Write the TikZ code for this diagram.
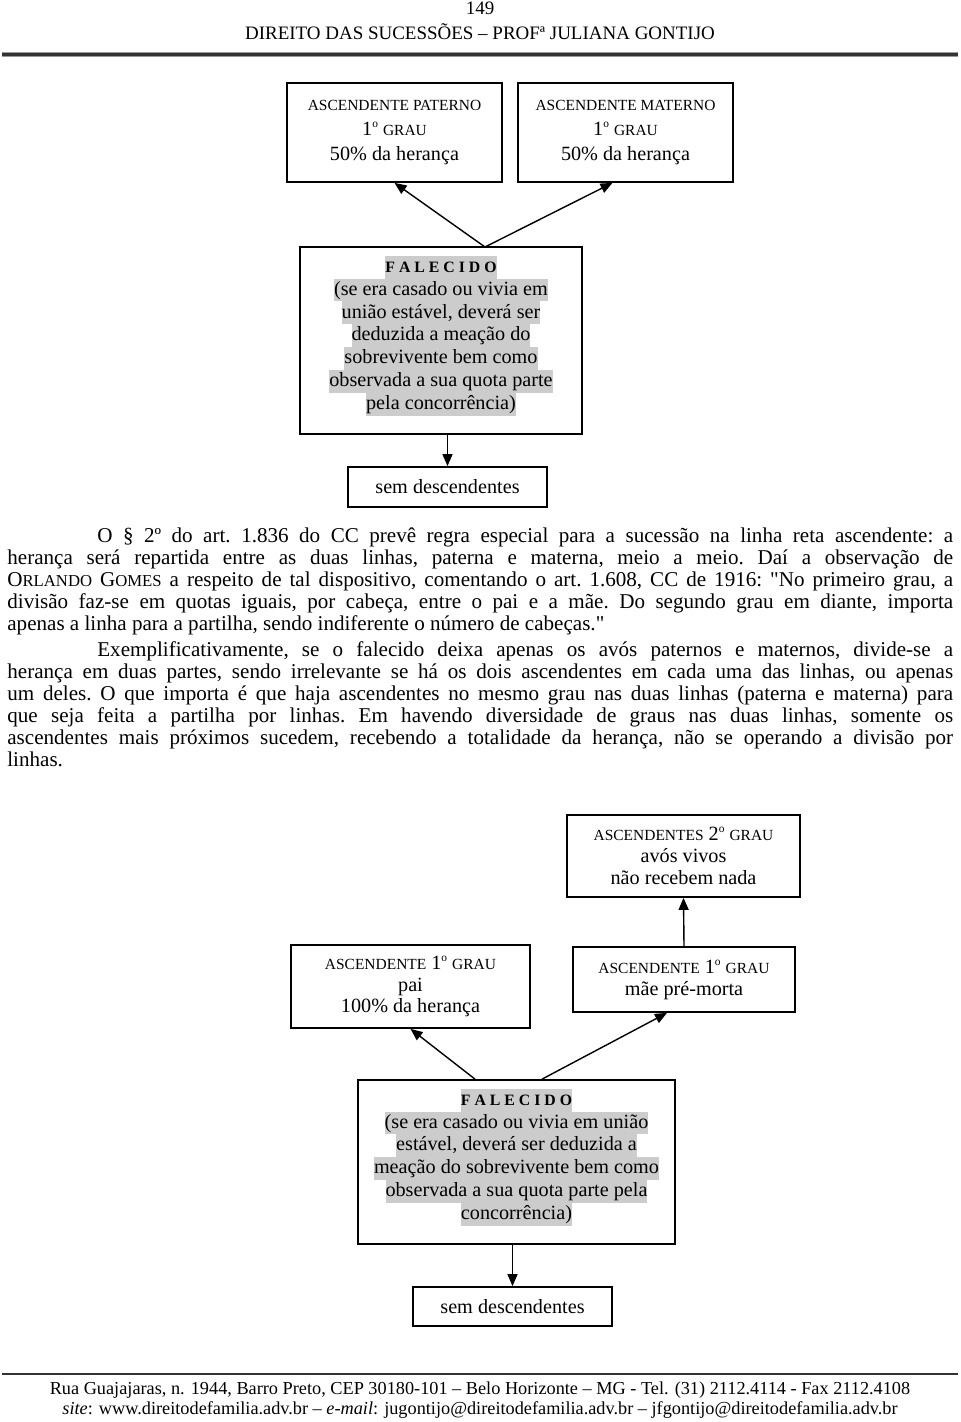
\documentclass[tikz,border=0pt]{standalone}
\usepackage{fontspec}
\setmainfont{Liberation Serif}
\usetikzlibrary{arrows.meta}

\definecolor{hlgray}{gray}{0.8}
\newcommand{\hlbar}[1]{{\setlength{\fboxsep}{0pt}\colorbox{hlgray}{\rule[-3.6pt]{0pt}{13pt}#1}}}
\newcommand{\capsm}[1]{{\fontsize{8.8}{10}\selectfont #1}}
\newcommand{\grau}[1]{#1\raisebox{0.85ex}{\fontsize{6.5}{7}\selectfont o}}
\newcommand{\faleceu}{\textbf{\fontsize{9}{10}\selectfont F A L E C I D O}}

\tikzset{
  box/.style={draw, line width=1pt, inner sep=0pt, align=center, font=\fontsize{11.5}{12.5}\selectfont},
  topbox/.style={font=\fontsize{11.5}{14}\selectfont},
  falbox/.style={font=\fontsize{11.5}{13}\selectfont},
  arr/.style={-{Triangle[length=0.24cm,width=0.2cm]}, line width=0.8pt},
  hdr/.style={inner sep=0pt, font=\fontsize{10.8}{12}\selectfont},
}

\begin{document}
\begin{tikzpicture}[x=0.02cm,y=-0.02cm]
\useasboundingbox (0,0) rectangle (960,1422);

% cabecalho
\node[hdr] (pag) at (480,8) {149};
\node[hdr] (tit) at (480,32) {DIREITO DAS SUCESSÕES – PROFª JULIANA GONTIJO};
\draw[line width=0.1cm, black!40] (2,55) -- (958,55);
\draw[line width=0.06cm, black!80] (2,55) -- (958,55);

% primeiro esquema
\node[box, topbox, minimum width=4.3cm, minimum height=1.98cm] (pat) at (394.5,132.5)
  {\capsm{ASCENDENTE PATERNO}\\\grau{1} \capsm{GRAU}\\50\% da herança};
\node[box, topbox, minimum width=4.3cm, minimum height=1.98cm] (mat) at (625.5,132.5)
  {\capsm{ASCENDENTE MATERNO}\\\grau{1} \capsm{GRAU}\\50\% da herança};
\node[box, falbox, minimum width=5.64cm, minimum height=3.74cm] (fal1) at (441,340.5)
  {\hlbar{\faleceu}\\\hlbar{(se era casado ou vivia em}\\\hlbar{união estável, deverá ser}\\\hlbar{deduzida a meação do}\\\hlbar{sobrevivente bem como}\\\hlbar{observada a sua quota parte}\\\hlbar{pela concorrência)}\\[-4pt]};
\node[box, minimum width=3.98cm, minimum height=0.8cm] (sem1) at (447.5,487) {sem descendentes};
\coordinate (top1) at (485,247);

\draw[arr] (top1) -- (pat.south);
\draw[arr] (top1) -- ([xshift=-0.26cm]mat.south);
\draw[arr] (fal1.south -| sem1.north) -- (sem1.north);

% texto
\node[anchor=north west, inner sep=0pt, text width=18.92cm, align=justify,
      font=\fontsize{12}{12.52}\selectfont] (txt) at (7,527) {%
\setlength{\parindent}{0pt}\setlength{\parskip}{2.8pt}\hyphenpenalty=10000\frenchspacing
\hspace*{1.8cm}O § 2º do art. 1.836 do CC prevê regra especial para a sucessão na linha reta ascendente: a\linebreak
herança será repartida entre as duas linhas, paterna e materna, meio a meio. Daí a observação de\linebreak
O{\fontsize{9.5}{10}\selectfont RLANDO} G{\fontsize{9.5}{10}\selectfont OMES} a respeito de tal dispositivo, comentando o art. 1.608, CC de 1916: \textquotedbl No primeiro grau, a\linebreak
divisão faz-se em quotas iguais, por cabeça, entre o pai e a mãe. Do segundo grau em diante, importa\linebreak
apenas a linha para a partilha, sendo indiferente o número de cabeças.\textquotedbl\par
\hspace*{1.8cm}Exemplificativamente, se o falecido deixa apenas os avós paternos e maternos, divide-se a\linebreak
herança em duas partes, sendo irrelevante se há os dois ascendentes em cada uma das linhas, ou apenas\linebreak
um deles. O que importa é que haja ascendentes no mesmo grau nas duas linhas (paterna e materna) para\linebreak
que seja feita a partilha por linhas. Em havendo diversidade de graus nas duas linhas, somente os\linebreak
ascendentes mais próximos sucedem, recebendo a totalidade da herança, não se operando a divisão por\linebreak
linhas.\par};

% segundo esquema
\node[box, minimum width=4.66cm, minimum height=1.64cm] (avos) at (683.5,856)
  {\capsm{ASCENDENTES} \grau{2} \capsm{GRAU}\\avós vivos\\não recebem nada};
\node[box, minimum width=4.78cm, minimum height=1.66cm] (pai) at (410.5,986.5)
  {\capsm{ASCENDENTE} \grau{1} \capsm{GRAU}\\pai\\100\% da herança};
\node[box, minimum width=4.44cm, minimum height=1.3cm] (mae) at (684,979.5)
  {\capsm{ASCENDENTE} \grau{1} \capsm{GRAU}\\mãe pré-morta};
\node[box, falbox, minimum width=6.34cm, minimum height=3.28cm] (fal2) at (516.5,1162)
  {\hlbar{\faleceu}\\\hlbar{(se era casado ou vivia em união}\\\hlbar{estável, deverá ser deduzida a}\\\hlbar{meação do sobrevivente bem como}\\\hlbar{observada a sua quota parte pela}\\\hlbar{concorrência)}\\[-4pt]};
\node[box, minimum width=3.98cm, minimum height=0.78cm] (sem2) at (512.5,1306.5) {sem descendentes};

\draw[arr] ([xshift=-0.83cm]fal2.north) -- (pai.south);
\draw[arr] ([xshift=0.51cm]fal2.north) -- ([xshift=-0.34cm]mae.south);
\draw[arr] (mae.north) -- (avos.south);
\draw[arr] (fal2.south -| sem2.north) -- (sem2.north);

% rodape
\draw[line width=0.04cm, black!80] (2,1374) -- (958,1374);
\node[hdr, font=\fontsize{10.4}{12}\selectfont] (rua) at (480,1390)
  {Rua Guajajaras, n. 1944, Barro Preto, CEP 30180-101 – Belo Horizonte – MG - Tel. (31) 2112.4114 - Fax 2112.4108};
\node[hdr, font=\fontsize{10.4}{12}\selectfont] (site) at (480,1410)
  {\textit{site}: www.direitodefamilia.adv.br – \textit{e-mail}: jugontijo@direitodefamilia.adv.br – jfgontijo@direitodefamilia.adv.br};
\end{tikzpicture}
\end{document}
